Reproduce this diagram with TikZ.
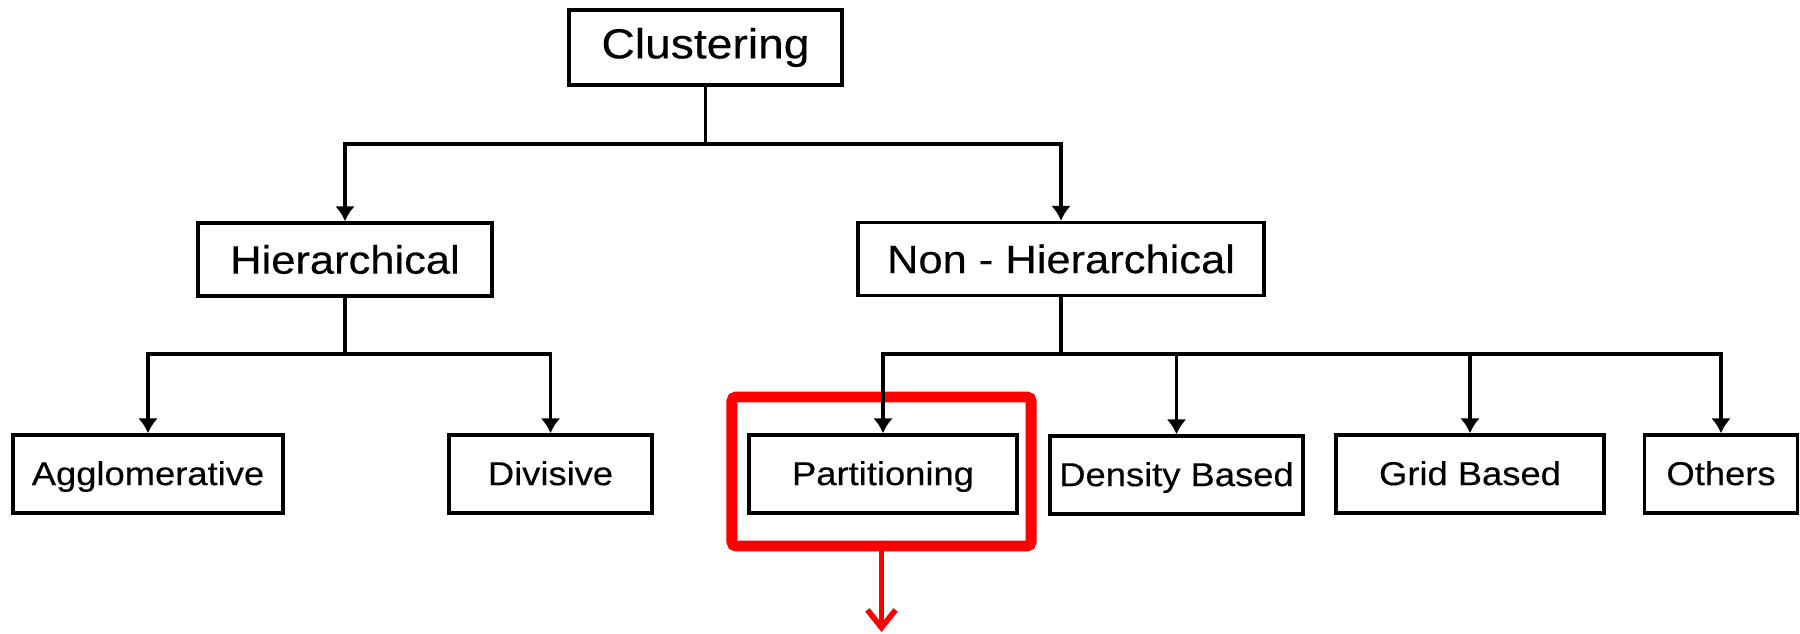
\documentclass[tikz,border=0pt]{standalone}
\usepackage{fontspec}
\setmainfont{Liberation Sans}
\newfontfamily\labfont[FakeStretch=1.1,FakeBold=0.3]{Liberation Sans}
\usetikzlibrary{arrows.meta}
\begin{document}
\begin{tikzpicture}[x=0.01cm,y=-0.01cm,
  box/.style={draw=black, line width=1pt, fill=white, inner sep=0pt, minimum height=0.75cm},
  topbox/.style={box, font=\labfont\fontsize{11.95}{14}\selectfont},
  midbox/.style={box, minimum height=0.73cm, font=\labfont\fontsize{11.24}{13}\selectfont},
  leafbox/.style={box, minimum height=0.78cm, text depth=0.5pt, font=\labfont\fontsize{9.4}{11}\selectfont},
  conn/.style={line width=1pt, draw=black},
  arr/.style={conn, -{Latex[length=4.2pt,width=5.6pt]}},
  highlight/.style={draw=red, line width=3.1pt, rounded corners=1.2pt, inner sep=0pt},
  redarr/.style={draw=red, line width=1.6pt, -{Straight Barb[length=5pt,width=8pt]}}
]
\useasboundingbox (0,0) rectangle (1800,634);
\fill[white] (0,0) rectangle (1800,634);

% highlight box (drawn first)
\node[highlight, minimum width=2.99cm, minimum height=1.49cm] (hl) at (881.5,471.5) {};
\coordinate (rend) at (881.5,632);
\draw[redarr] (hl.south) -- (rend);

% nodes
\node[topbox, minimum width=2.73cm] (clu) at (705.5,47.5) {Clustering};
\node[midbox, minimum width=2.94cm] (hier) at (345,259.5) {Hierarchical};
\node[midbox, minimum width=4.06cm] (non) at (1061,259) {Non - Hierarchical};
\node[leafbox, minimum width=2.70cm] (agg) at (148,474) {Agglomerative};
\node[leafbox, minimum width=2.03cm] (div) at (550.5,474) {Divisive};
\node[leafbox, minimum width=2.68cm] (part) at (883,474) {Partitioning};
\node[leafbox, minimum width=2.53cm] (dens) at (1176.5,475) {Density Based};
\node[leafbox, minimum width=2.68cm] (grid) at (1470,474) {Grid Based};
\node[leafbox, minimum width=1.53cm] (oth) at (1721,474) {Others};

% connectors
\draw[arr] (clu.south) -- ++(0,57) -| (hier.north);
\draw[arr] (clu.south) -- ++(0,57) -| (non.north);
\draw[arr] (hier.south) -- ++(0,56) -| (agg.north);
\draw[arr] (hier.south) -- ++(0,56) -| (div.north);
\draw[arr] (non.south) -- ++(0,56.5) -| (part.north);
\draw[arr] (non.south) -- ++(0,56.5) -| (dens.north);
\draw[arr] (non.south) -- ++(0,56.5) -| (grid.north);
\draw[arr] (non.south) -- ++(0,56.5) -| (oth.north);
\end{tikzpicture}
\end{document}
